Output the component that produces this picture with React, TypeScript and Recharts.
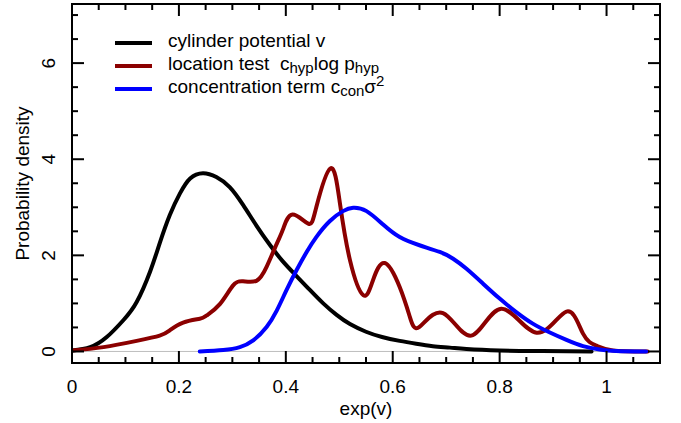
import { Label, Line, LineChart, ReferenceLine, XAxis, YAxis } from "recharts";

// values
const cylinderV = [0, 0.034, 0.065, 0.096, 0.121, 0.146, 0.164, 0.183, 0.202, 0.221, 0.245, 0.27, 0.295, 0.32, 0.345, 0.37, 0.394, 0.42, 0.445, 0.47, 0.495, 0.52, 0.55, 0.58, 0.613, 0.644, 0.675, 0.707, 0.738, 0.8, 0.88, 0.972];
const cylinderD = [0.02, 0.09, 0.3, 0.65, 1.03, 1.66, 2.25, 2.84, 3.29, 3.6, 3.71, 3.63, 3.42, 3.05, 2.62, 2.22, 1.88, 1.57, 1.28, 1.0, 0.76, 0.57, 0.41, 0.3, 0.22, 0.16, 0.11, 0.08, 0.05, 0.02, 0.01, 0.0];

const locationV = [0, 0.059, 0.121, 0.164, 0.183, 0.208, 0.239, 0.252, 0.277, 0.301, 0.32, 0.345, 0.364, 0.383, 0.395, 0.4125, 0.442, 0.457, 0.4835, 0.501, 0.52, 0.545, 0.563, 0.585, 0.613, 0.632, 0.65, 0.694, 0.747, 0.803, 0.869, 0.925, 0.956, 0.981, 1.012, 1.077];
const locationD = [0.02, 0.09, 0.22, 0.33, 0.44, 0.6, 0.68, 0.75, 0.99, 1.37, 1.46, 1.47, 1.76, 2.24, 2.55, 2.85, 2.66, 3.0, 3.81, 3.1, 1.9, 1.17, 1.48, 1.84, 1.34, 0.72, 0.51, 0.8, 0.33, 0.89, 0.39, 0.83, 0.37, 0.12, 0.02, 0.0];

const concentrationV = [0.239, 0.283, 0.314, 0.339, 0.364, 0.383, 0.401, 0.42, 0.439, 0.457, 0.482, 0.507, 0.526, 0.551, 0.582, 0.613, 0.65, 0.688, 0.713, 0.738, 0.769, 0.8, 0.831, 0.862, 0.893, 0.925, 0.956, 0.987, 1.018, 1.074];
const concentrationD = [0.0, 0.03, 0.09, 0.23, 0.51, 0.85, 1.27, 1.69, 2.07, 2.38, 2.71, 2.92, 2.99, 2.92, 2.64, 2.38, 2.21, 2.07, 1.93, 1.72, 1.41, 1.1, 0.82, 0.58, 0.4, 0.24, 0.11, 0.04, 0.01, 0.0];

const xTicks = [0, 0.05, 0.1, 0.15, 0.2, 0.25, 0.3, 0.35, 0.4, 0.45, 0.5, 0.55, 0.6, 0.65, 0.7, 0.75, 0.8, 0.85, 0.9, 0.95, 1, 1.05, 1.1];
const xMajor = [0, 0.2, 0.4, 0.6, 0.8, 1];
const yTicks = [0, 0.5, 1, 1.5, 2, 2.5, 3, 3.5, 4, 4.5, 5, 5.5, 6, 6.5, 7];
const yMajor = [0, 2, 4, 6];

const xDomain = [0, 1.1];
const yDomain = [-0.24, 7.23];

const W = 681;
const H = 423;
const LEFT = 72;
const RIGHT = 660;
const TOP = 4;
const BOTTOM = 363;
const FONT = '"Liberation Sans", Arial, Helvetica, sans-serif';
const frame = { stroke: "#000", strokeWidth: 2, strokeLinecap: "square" as const };

const toRows = (vs: number[], ds: number[]) => vs.map((v, i) => ({ v, d: ds[i] }));
const cylinder = toRows(cylinderV, cylinderD);
const location = toRows(locationV, locationD);
const concentration = toRows(concentrationV, concentrationD);

const isMajor = (list: number[], v: number) => list.some((m) => Math.abs(m - v) < 1e-6);
const tickLen = (major: boolean) => (major ? 12 : 6);

// same linear mapping the chart axes use (domains pinned, plot box fixed)
const sx = (v: number) => LEFT + ((v - xDomain[0]) / (xDomain[1] - xDomain[0])) * (RIGHT - LEFT);
const sy = (v: number) => BOTTOM - ((v - yDomain[0]) / (yDomain[1] - yDomain[0])) * (BOTTOM - TOP);

const BottomLabel = (props: any) => {
  const { x, payload } = props;
  if (!isMajor(xMajor, payload.value)) return <g />;
  return (
    <text x={x} y={393} textAnchor="middle" fontFamily={FONT} fontSize={19} fill="#000">
      {String(payload.value)}
    </text>
  );
};

const LeftLabel = (props: any) => {
  const { y, payload } = props;
  if (!isMajor(yMajor, payload.value)) return <g />;
  return (
    <text
      x={55}
      y={y}
      transform={`rotate(-90 55 ${y})`}
      textAnchor="middle"
      fontFamily={FONT}
      fontSize={19}
      fill="#000"
    >
      {String(payload.value)}
    </text>
  );
};

// inward ticks on all four sides of the box
function InwardTicks() {
  return (
    <svg
      width={W}
      height={H}
      style={{ position: "absolute", left: 0, top: 0, pointerEvents: "none" }}
    >
      <g stroke="#000" strokeWidth={2}>
        {xTicks.map((v) => {
          const len = tickLen(isMajor(xMajor, v));
          const x = sx(v);
          return (
            <g key={`x${v}`}>
              <line x1={x} x2={x} y1={BOTTOM} y2={BOTTOM - len} />
              <line x1={x} x2={x} y1={TOP} y2={TOP + len} />
            </g>
          );
        })}
        {yTicks.map((v) => {
          const len = tickLen(isMajor(yMajor, v));
          const y = sy(v);
          return (
            <g key={`y${v}`}>
              <line x1={LEFT} x2={LEFT + len} y1={y} y2={y} />
              <line x1={RIGHT} x2={RIGHT - len} y1={y} y2={y} />
            </g>
          );
        })}
      </g>
    </svg>
  );
}

function Sub({ children }: { children: any }) {
  return <span style={{ fontSize: 15, position: "relative", top: 3 }}>{children}</span>;
}

function Sup({ children }: { children: any }) {
  return <span style={{ fontSize: 15, position: "relative", top: -7 }}>{children}</span>;
}

const legendItems = [
  { color: "#000000", label: <>cylinder potential v</> },
  {
    color: "#8b0000",
    label: (
      <>
        location test{"\u00a0\u00a0"}c<Sub>hyp</Sub>log p<Sub>hyp</Sub>
      </>
    )
  },
  {
    color: "#0000ff",
    label: (
      <>
        concentration term c<Sub>con</Sub>σ<Sup>2</Sup>
      </>
    )
  }
];

export default function App() {
  return (
    <div style={{ position: "absolute", left: 0, top: 0, width: W, height: H, background: "#fff" }}>
      <LineChart width={W} height={H} margin={{ top: 0, right: 0, bottom: 0, left: 0 }}>
        <XAxis
          dataKey="v"
          type="number"
          domain={xDomain}
          allowDataOverflow
          ticks={xTicks}
          interval={0}
          height={H - BOTTOM}
          axisLine={frame}
          tickLine={false}
          tick={BottomLabel}
        >
          <Label
            content={() => (
              <text x={(LEFT + RIGHT) / 2} y={415} textAnchor="middle" fontFamily={FONT} fontSize={19} fill="#000">
                exp(v)
              </text>
            )}
          />
        </XAxis>
        <XAxis
          xAxisId="top"
          orientation="top"
          dataKey="v"
          type="number"
          domain={xDomain}
          allowDataOverflow
          ticks={xTicks}
          height={TOP}
          axisLine={frame}
          tickLine={false}
          tick={false}
        />
        <YAxis
          type="number"
          domain={yDomain}
          allowDataOverflow
          ticks={yTicks}
          interval={0}
          width={LEFT}
          axisLine={frame}
          tickLine={false}
          tick={LeftLabel}
        >
          <Label
            content={() => (
              <text
                x={29}
                y={(TOP + BOTTOM) / 2}
                transform={`rotate(-90 29 ${(TOP + BOTTOM) / 2})`}
                textAnchor="middle"
                fontFamily={FONT}
                fontSize={19}
                fill="#000"
              >
                Probability density
              </text>
            )}
          />
        </YAxis>
        <YAxis
          yAxisId="right"
          orientation="right"
          type="number"
          domain={yDomain}
          allowDataOverflow
          ticks={yTicks}
          width={W - RIGHT}
          axisLine={frame}
          tickLine={false}
          tick={false}
        />
        <ReferenceLine y={0} stroke="#bebebe" strokeWidth={1} />
        <Line
          data={cylinder}
          dataKey="d"
          type="natural"
          stroke="#000000"
          strokeWidth={4}
          strokeLinecap="round"
          dot={false}
          activeDot={false}
          isAnimationActive={false}
        />
        <Line
          data={location}
          dataKey="d"
          type="natural"
          stroke="#8b0000"
          strokeWidth={4}
          strokeLinecap="round"
          dot={false}
          activeDot={false}
          isAnimationActive={false}
        />
        <Line
          data={concentration}
          dataKey="d"
          type="natural"
          stroke="#0000ff"
          strokeWidth={4}
          strokeLinecap="round"
          dot={false}
          activeDot={false}
          isAnimationActive={false}
        />
      </LineChart>
      <InwardTicks />
      <div
        style={{
          position: "absolute",
          left: 115,
          top: 31,
          fontFamily: FONT,
          fontSize: 19,
          color: "#000",
          whiteSpace: "nowrap"
        }}
      >
        {legendItems.map((item, i) => (
          <div key={i} style={{ display: "flex", alignItems: "center", height: 23 }}>
            <span style={{ width: 37, height: 4, background: item.color, marginRight: 16, flex: "none" }} />
            <span style={{ lineHeight: "23px", position: "relative", top: -2 }}>{item.label}</span>
          </div>
        ))}
      </div>
    </div>
  );
}
